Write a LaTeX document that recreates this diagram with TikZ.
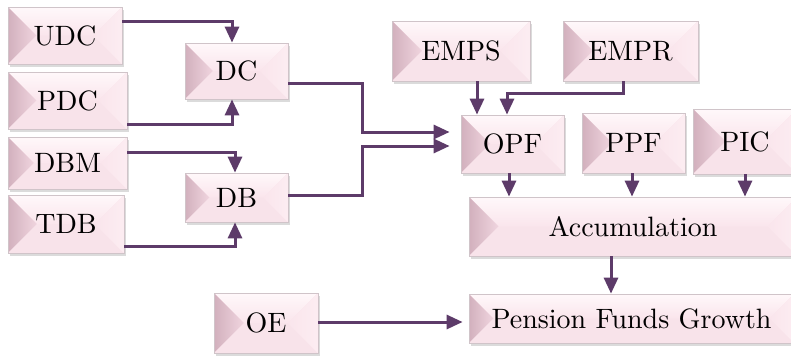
\documentclass[tikz,border=0pt]{standalone}
\usepackage{fontspec}
\newfontfamily\boxfont{lmroman10-regular.otf}
\usetikzlibrary{arrows.meta,shadows,calc}
\definecolor{arr}{RGB}{93,59,105}
\definecolor{pinkbase}{RGB}{250,229,236}
\definecolor{pinkdark}{RGB}{210,176,189}
\definecolor{pinkmid}{RGB}{240,213,223}
\definecolor{pinklight}{RGB}{255,248,250}
\definecolor{edgegray}{RGB}{208,196,201}
\tikzset{
  box/.style={draw=edgegray, line width=0.8pt, fill=pinkbase, inner sep=0pt,
    drop shadow={opacity=0.28, shadow xshift=1.5pt, shadow yshift=-2.5pt},
    font=\boxfont\fontsize{28}{32}\selectfont,
    path picture={
      \path let \p1=(path picture bounding box.north west),
                \p2=(path picture bounding box.south east),
                \n1={(\y1-\y2)/2}, \n2={(\y1+\y2)/2} in
        coordinate (bnw) at (\x1,\y1)
        coordinate (bne) at (\x2,\y1)
        coordinate (bsw) at (\x1,\y2)
        coordinate (bse) at (\x2,\y2)
        coordinate (bla) at (\x1+\n1,\n2)
        coordinate (bra) at (\x2-\n1,\n2);
      \fill[top color=pinklight, bottom color=pinkbase] (bnw) -- (bne) -- (bra) -- (bla) -- cycle;
      \fill[left color=pinkdark, right color=pinkmid] (bnw) -- (bla) -- (bsw) -- cycle;
      \fill[pinkbase!96!pinkdark] (bsw) -- (bla) -- (bra) -- (bse) -- cycle;
      \fill[left color=pinkbase, right color=pinkbase!60!pinklight] (bne) -- (bra) -- (bse) -- cycle;
    }},
  conn/.style={draw=arr, line width=3pt, -{Triangle[length=16pt,width=14pt]}}
}
\begin{document}
\begin{tikzpicture}[x=1pt,y=-1pt]
\useasboundingbox (0,0) rectangle (791,357);
\fill[white] (0,0) rectangle (791,357);
\clip (0,0) rectangle (791,357);

% left column
\node[box, minimum width=114, minimum height=57] (UDC) at (65,35.5) {UDC};
\node[box, minimum width=119, minimum height=57] (PDC) at (67.5,100.5) {PDC};
\node[box, minimum width=119, minimum height=52] (DBM) at (67.5,163) {DBM};
\node[box, minimum width=116, minimum height=58] (TDB) at (66,224) {TDB};
\node[box, minimum width=103, minimum height=56] (DC) at (236.5,71) {DC};
\node[box, minimum width=103, minimum height=49] (DB) at (236.5,197.5) {DB};
\node[box, minimum width=104, minimum height=60] (OE) at (266,323) {OE};

% right part
\node[box, minimum width=138, minimum height=60] (EMPS) at (461,51) {EMPS};
\node[box, minimum width=135, minimum height=60] (EMPR) at (630.5,51) {EMPR};
\node[box, minimum width=103, minimum height=58] (OPF) at (512.5,144) {OPF};
\node[box, minimum width=103, minimum height=60] (PPF) at (633.5,143) {PPF};
\node[box, minimum width=104, minimum height=65] (PIC) at (745,141.5) {PIC};
\node[box, minimum width=328, minimum height=59] (ACC) at (633,226.5) {Accumulation};
\node[box, minimum width=325, minimum height=49] (PFG) at (631.5,318.5) {Pension Funds Growth};

% helper coordinates
\coordinate (m1) at (362,132);
\coordinate (m2) at (362,146);
\coordinate (m3) at (507,93);
\path (OPF.south) ++(-3.5,0) coordinate (o1);
\path (PPF.south) ++(-1.5,0) coordinate (o2);
\path (PIC.south) ++(0,0) coordinate (o3);
\path (ACC.south) ++(-22,0) coordinate (a1);
\path (OE.east) ++(0,-1) coordinate (e1);

% connectors
\draw[conn] ([yshift=14pt]UDC.east) -| ([xshift=-4.5pt]DC.north);
\draw[conn] ([yshift=-23.5pt]PDC.east) -| ([xshift=-4.5pt]DC.south);
\draw[conn] ([yshift=11pt]DBM.east) -| ([xshift=-1.5pt]DB.north);
\draw[conn] ([yshift=-22pt]TDB.east) -| ([xshift=-1.5pt]DB.south);
\draw[conn, shorten >=11pt] ([yshift=-12pt]DC.east) -| (m1) -- (m1 -| OPF.west);
\draw[conn, shorten >=11pt] ([yshift=2.5pt]DB.east) -| (m2) -- (m2 -| OPF.west);
\draw[conn] ([xshift=16pt]EMPS.south) -- ([xshift=-35.5pt]OPF.north);
\draw[conn] ([xshift=-7.5pt]EMPR.south) |- (m3) -- ([xshift=-5.5pt]OPF.north);
\draw[conn] (o1) -- (o1 |- ACC.north);
\draw[conn] (o2) -- (o2 |- ACC.north);
\draw[conn] (o3) -- (o3 |- ACC.north);
\draw[conn] (a1) -- (a1 |- PFG.north);
\draw[conn, shorten >=6pt] (e1) -- (e1 -| PFG.west);
\end{tikzpicture}
\end{document}
